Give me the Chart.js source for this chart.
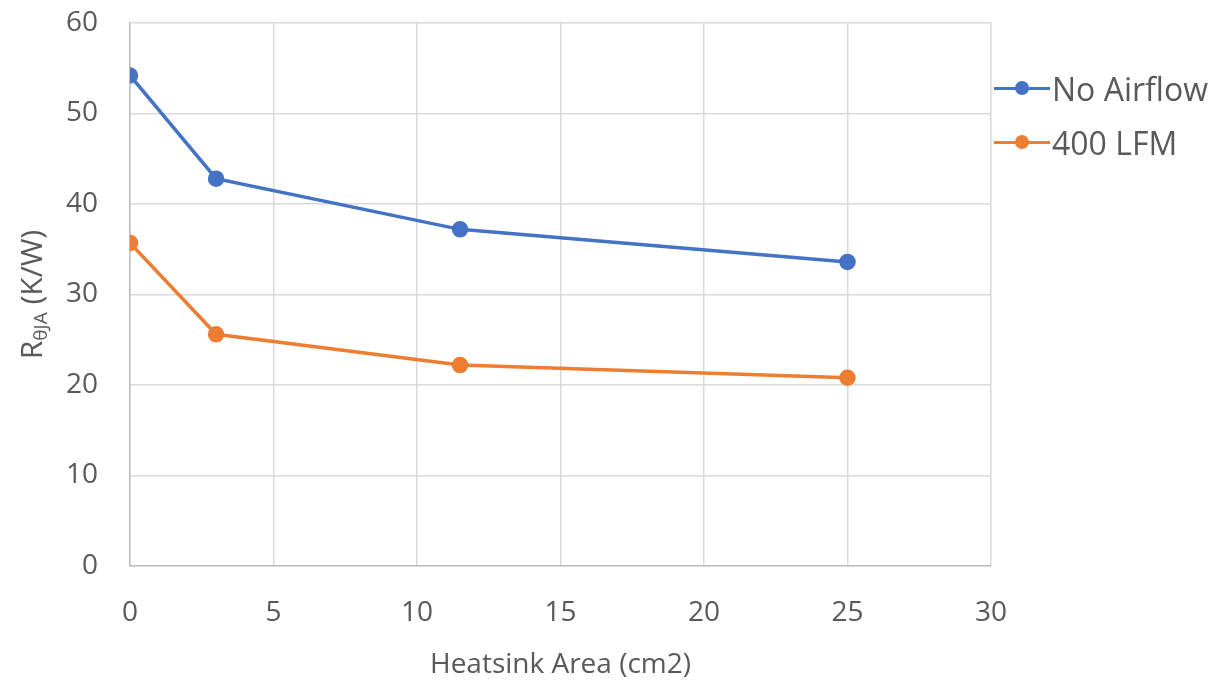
<!DOCTYPE html>
<html>
<head>
<meta charset="utf-8">
<script src="https://cdn.jsdelivr.net/npm/chart.js@4/dist/chart.umd.min.js"></script>
<style>
  html, body { margin: 0; padding: 0; background: #fff; }
  #wrap { position: relative; width: 1216px; height: 686px; }
  #legend { position: absolute; left: 994px; top: 61px; font-family: "Open Sans", sans-serif; font-size: 32px; color: #595959; }
  .item { display: flex; align-items: center; height: 54px; }
  .swatch { position: relative; width: 56px; height: 20px; margin-right: 2px; }
  .swatch .ln { position: absolute; left: 0; right: 0; top: 8.5px; height: 3px; }
  .swatch .dot { position: absolute; left: 21px; top: 3px; width: 14px; height: 14px; border-radius: 50%; }
</style>
</head>
<body>
<div id="wrap">
  <canvas id="chart" width="1216" height="686"></canvas>
  <div id="legend"></div>
</div>
<script>
const areas = [0, 3, 11.5, 25];
const noAirflow = [54.2, 42.8, 37.2, 33.6];
const lfm400 = [35.7, 25.6, 22.2, 20.8];
const seriesNames = ['No Airflow', '400 LFM'];
const seriesColors = ['#4472C4', '#ED7D31'];
const xTitle = 'Heatsink Area (cm2)';

const toPoints = vals => areas.map((x, i) => ({ x: x, y: vals[i] }));
const tickFont = { family: '"Open Sans", sans-serif', size: 28 };

// y axis title with subscript, drawn on the canvas
const yTitlePlugin = {
    id: 'yTitle',
    afterDraw(chart) {
        const ctx = chart.ctx;
        const area = chart.chartArea;
        const cy = (area.top + area.bottom) / 2;
        ctx.save();
        ctx.translate(32, cy);
        ctx.rotate(-Math.PI / 2);
        ctx.fillStyle = '#595959';
        ctx.textBaseline = 'alphabetic';
        const big = '30px "Open Sans", sans-serif';
        const small = '19px "Open Sans", sans-serif';
        ctx.font = big;
        const w1 = ctx.measureText('R').width;
        ctx.font = small;
        const w2 = ctx.measureText('θJA').width;
        ctx.font = big;
        const w3 = ctx.measureText(' (K/W)').width;
        let x = -(w1 + w2 + w3) / 2;
        const base = 10;
        ctx.fillText('R', x, base);
        x += w1;
        ctx.font = small;
        ctx.fillText('θJA', x, base + 5);
        x += w2;
        ctx.font = big;
        ctx.fillText(' (K/W)', x, base);
        ctx.restore();
    }
};

new Chart(document.getElementById('chart'), {
    type: 'line',
    data: {
        datasets: [
            { label: seriesNames[0], data: toPoints(noAirflow), borderColor: seriesColors[0], backgroundColor: seriesColors[0] },
            { label: seriesNames[1], data: toPoints(lfm400), borderColor: seriesColors[1], backgroundColor: seriesColors[1] }
        ].map(d => Object.assign(d, { borderWidth: 3.5, pointRadius: 6.5, pointHoverRadius: 6.5, tension: 0 }))
    },
    options: {
        responsive: false,
        animation: false,
        layout: { padding: { top: 23, right: 225, left: 0, bottom: 0 } },
        plugins: { legend: { display: false }, tooltip: { enabled: false } },
        scales: {
            x: {
                type: 'linear',
                min: 0, max: 30,
                ticks: { stepSize: 5, color: '#595959', padding: 30, font: tickFont },
                grid: { color: '#d9d9d9', lineWidth: 1.5, drawTicks: false },
                border: { color: '#bfbfbf', width: 1.5 },
                title: { display: true, text: xTitle, color: '#595959', padding: { top: 12 }, font: tickFont },
                afterFit: s => { s.height = 120; s.paddingLeft = 0; s.paddingRight = 0; }
            },
            y: {
                min: 0, max: 60,
                ticks: { stepSize: 10, color: '#595959', padding: 32, font: tickFont },
                grid: { color: '#d9d9d9', lineWidth: 1.5, drawTicks: false },
                border: { color: '#bfbfbf', width: 1.5 },
                afterFit: s => { s.width = 130; s.paddingTop = 0; s.paddingBottom = 0; }
            }
        }
    },
    plugins: [yTitlePlugin]
});

document.getElementById('legend').innerHTML = seriesNames.map((name, i) => `
    <div class="item">
        <div class="swatch"><div class="ln" style="background:${seriesColors[i]}"></div><div class="dot" style="background:${seriesColors[i]}"></div></div>
        <span>${name}</span>
    </div>`).join('');
</script>
</body>
</html>
